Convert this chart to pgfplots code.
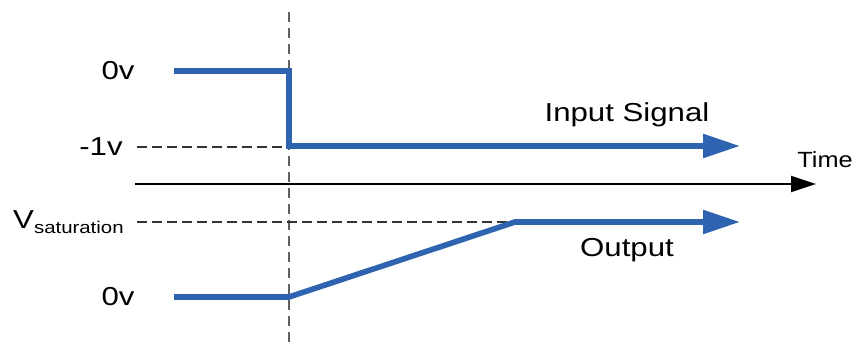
\documentclass[border=0pt]{standalone}
\usepackage{fontspec}
\setmainfont{Liberation Sans}
\usepackage{pgfplots}
\pgfplotsset{compat=1.18}
\usetikzlibrary{arrows.meta}
\definecolor{sigblue}{RGB}{46,99,176}
\definecolor{dashgray}{RGB}{95,95,95}
\begin{document}
\begin{tikzpicture}
\begin{axis}[
  x=1pt, y=1pt,
  xmin=0, xmax=866, ymin=0, ymax=344,
  hide axis, clip=false,
]
% vertical dashed marker
\addplot[dashgray, line width=2.8pt, dash pattern=on 10pt off 6pt] coordinates {(289,332) (289,0)};
% horizontal reference dashed lines
\addplot[black!80, line width=1.5pt, dash pattern=on 10pt off 5pt] coordinates {(137,197) (289,197)};
\addplot[black!80, line width=1.5pt, dash pattern=on 10pt off 5pt] coordinates {(137,122) (515,122)};
% time axis
\addplot[black, line width=1.9pt, -{Triangle[length=25pt,width=16pt]}] coordinates {(135,160) (816,160)};
% input signal
\addplot[sigblue, line width=5.6pt, line join=miter, -{Triangle[length=37pt,width=23pt]}] coordinates {(174,273) (289,273) (289,198) (740,198)};
% output
\addplot[sigblue, line width=5.6pt, line join=miter, -{Triangle[length=37pt,width=23pt]}] coordinates {(174,47) (289,47) (515,122) (740,122)};
% labels
\node[xscale=1.2, font=\fontsize{26}{30}\selectfont] at (axis cs:118,273) {0v};
\node[xscale=1.2, font=\fontsize{26}{30}\selectfont] at (axis cs:101,197) {-1v};
\node[xscale=1.2, font=\fontsize{26}{30}\selectfont] at (axis cs:118,47) {0v};
\node[xscale=1.2, anchor=base west, inner sep=0pt, font=\fontsize{26}{30}\selectfont] at (axis cs:13,115) {V\raisebox{-5pt}{\fontsize{17}{20}\selectfont saturation}};
\node[xscale=1.2, font=\fontsize{26}{30}\selectfont] at (axis cs:627,229) {Input Signal};
\node[xscale=1.2, font=\fontsize{26}{30}\selectfont] at (axis cs:627,94) {Output};
\node[xscale=1.15, font=\fontsize{22}{26}\selectfont] at (axis cs:825,184) {Time};
\end{axis}
\pgfresetboundingbox
\path (0,0) rectangle (866pt,344pt);
\end{tikzpicture}
\end{document}
